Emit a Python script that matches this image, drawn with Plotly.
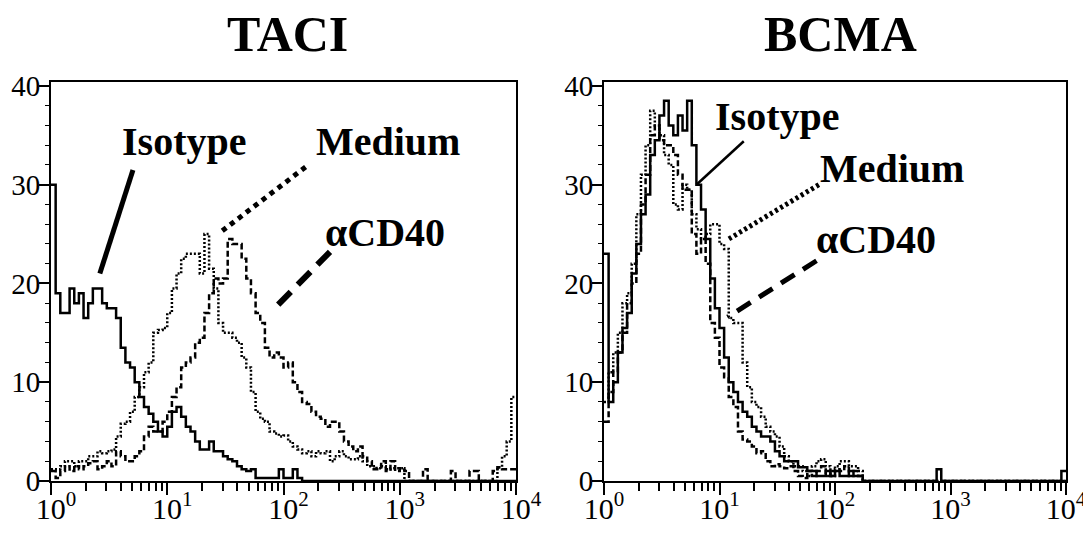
import plotly.graph_objects as go

# ---------------- data (histogram counts, 100 bins of 0.04 log10 units from 10^0 to 10^4) -------------
BIN_WIDTH_LOG = 0.04
N_BINS = 100

taci_isotype = [30, 19, 17, 17, 19.5, 18, 19, 16.5, 18, 19.5,
                19.5, 18, 17.5, 17.5, 16.5, 13.5, 12, 11.5, 10, 8.5,
                7.5, 6.8, 6, 5, 4.5, 5.5, 7, 7.5, 6.5, 5.5,
                5, 4, 3.2, 3.2, 4, 3, 3, 2.5, 2.2, 2,
                1.5, 1.2, 1, 1.2, 0.3, 0.3, 0.3, 0.3, 0.3, 1.2,
                0.3, 0.3, 1.2, 0.3, 0, 0, 0, 0, 0, 0,
                0, 0, 0, 0, 0, 0, 0, 0, 0, 0,
                0, 0, 0, 0, 0, 0, 0, 0, 0, 0,
                0, 0, 0, 0, 0, 0, 0, 0, 0, 0,
                0, 0, 0, 0, 0, 0, 0, 0, 0, 0]

taci_medium = [1.2, 1.2, 1.5, 2, 2, 1.5, 2, 2, 2.5, 2.5,
               3, 2.8, 3, 3.2, 4.5, 5.8, 6, 7, 8.5, 9.5,
               11, 12, 15, 15.3, 15.5, 17, 19.5, 21, 22.5, 23,
               23, 23, 21, 25, 21.5, 19.5, 16, 15, 15, 14.5,
               14, 12.5, 11.5, 9, 7, 6.3, 6, 5, 4.8, 4.5,
               4.6, 4, 3.5, 3.2, 2.8, 3, 2.5, 3, 2.8, 3,
               2, 2.5, 3, 2.5, 2.2, 2.2, 2.5, 2, 1.5, 1.5,
               1.3, 1.5, 1.2, 1.3, 1.3, 1.3, 0, 0, 0, 0,
               0, 0, 0, 0, 0, 0, 0, 0, 0, 0,
               0, 0, 0, 0, 0, 0, 1.4, 2.5, 4, 8.5]

taci_cd40 = [1, 0.3, 1, 1.5, 1, 1.5, 1.2, 1.5, 1.8, 2,
             1.2, 1.5, 2, 1.5, 3, 2.5, 2, 2, 2.5, 3,
             4.5, 5.5, 5, 5, 6, 7, 8.5, 9.5, 11.5, 12,
             12.5, 14, 14.5, 17, 19, 20.5, 20, 20.5, 24.5, 24,
             24, 22.5, 20.5, 19, 17, 16, 13.5, 12.5, 13, 12.5,
             11.5, 12, 10, 9, 8, 7.8, 7, 6.5, 6.3, 5.5,
             6, 6, 5, 4, 3.5, 3, 3.5, 2.5, 2, 1.2,
             1.2, 2, 1, 2, 1, 1.3, 1, 0, 0, 0,
             1.2, 0, 0, 0, 0, 0, 1, 0, 0, 0,
             1, 1, 0, 0, 0, 1, 1.4, 1.2, 1.2, 1.2]

bcma_isotype = [23, 8, 10, 13, 15.5, 17, 21, 24, 27, 29,
                33, 34.5, 37, 38.5, 36, 35, 37, 35.5, 38.5, 34,
                30, 27.5, 24.5, 20.5, 17.5, 15.5, 12.5, 10, 9, 8,
                7, 6.5, 5.5, 5, 4.5, 4.5, 4, 3, 2.5, 2,
                2, 2, 1.4, 1.4, 1, 1, 0.5, 0.5, 1, 0.5,
                1, 0.5, 0.5, 1, 0.5, 0.5, 0, 0, 0, 0,
                0, 0, 0, 0, 0, 0, 0, 0, 0, 0,
                0, 0, 1.2, 0, 0, 0, 0, 0, 0, 0,
                0, 0, 0, 0, 0, 0, 0, 0, 0, 0,
                0, 0, 0, 0, 0, 0, 0, 0, 0, 1]

bcma_medium = [8, 11, 13, 15, 18, 19, 22, 27, 31, 34,
               37.5, 36, 35, 33, 32, 28, 27.5, 30, 29.5, 27,
               25.5, 24.5, 25, 26, 26, 24, 23.5, 16.5, 16, 16,
               12, 9.5, 8, 7.5, 6.5, 5.5, 5, 4.5, 3.5, 2.5,
               2, 1.5, 1.5, 1, 0.5, 1.5, 2, 2.2, 1.5, 0.5,
               1.5, 2, 2, 1.5, 1.5, 1, 0, 0, 0, 0,
               0, 0, 0, 0, 0, 0, 0, 0, 0, 0,
               0, 0, 0, 0, 0, 0, 0, 0, 0, 0,
               0, 0, 0, 0, 0, 0, 0, 0, 0, 0,
               0, 0, 0, 0, 0, 0, 0, 0, 0, 0]

bcma_cd40 = [6, 9, 11, 13, 15, 18, 20, 23, 28, 31,
             35, 36, 34.5, 34, 34, 33, 31, 29.5, 29.5, 25,
             23, 24.5, 22, 16, 14.5, 11.5, 10.5, 8.5, 7.5, 5,
             4.2, 4, 3.5, 2.8, 3, 2, 1.5, 1.7, 1.5, 1.3,
             1.5, 1, 0.5, 0.3, 1, 0.5, 1, 1.5, 0.5, 1,
             1.2, 1, 1.5, 0.5, 1, 0.5, 0, 0, 0, 0,
             0, 0, 0, 0, 0, 0, 0, 0, 0, 0,
             0, 0, 0, 0, 0, 0, 0, 0, 0, 0,
             0, 0, 0, 0, 0, 0, 0, 0, 0, 0,
             0, 0, 0, 0, 0, 0, 0, 0, 0, 0]

panel_titles = ["TACI", "BCMA"]
series_labels = ["Isotype", "Medium", "αCD40"]
x_tick_vals = [1, 10, 100, 1000, 10000]
x_tick_text = ["10<sup>0</sup>", "10<sup>1</sup>", "10<sup>2</sup>", "10<sup>3</sup>", "10<sup>4</sup>"]
y_tick_vals = [0, 10, 20, 30, 40]

# label leader lines (log10 position, count) : start near label, end on curve
taci_pointers = {"Isotype": [(0.705, 31.5), (0.42, 21.0)],
                 "Medium": [(2.19, 31.8), (1.47, 25.3)],
                 "αCD40": [(2.40, 23.2), (1.90, 17.2)]}
bcma_pointers = {"Isotype": [(1.21, 34.4), (0.80, 30.0)],
                 "Medium": [(1.86, 30.0), (1.08, 24.5)],
                 "αCD40": [(1.84, 22.3), (1.07, 16.6)]}

# ---------------- figure --------------------------------------------------------------------------
W, H = 1091, 534
OFF = 8  # default page margin of the html body shifts the figure by 8px
SERIF = "Liberation Serif, Times New Roman, serif"


def px_x(p):
    return (p - OFF) / W


def px_y(p):
    return 1 - (p - OFF) / H


edges = [10 ** (BIN_WIDTH_LOG * i) for i in range(N_BINS + 1)]

curve_style = {
    "Isotype": dict(color="black", width=2.5),
    "Medium": dict(color="black", width=2.5, dash="2px,2px"),
    "αCD40": dict(color="black", width=2.5, dash="6px,3px"),
}

fig = go.Figure()

panels = [
    ("x", "y", [taci_medium, taci_cd40, taci_isotype], taci_pointers,
     {"Isotype": dict(width=5), "Medium": dict(width=5, dash="5px,5px"), "αCD40": dict(width=6, dash="18px,10px")}),
    ("x2", "y2", [bcma_medium, bcma_cd40, bcma_isotype], bcma_pointers,
     {"Isotype": dict(width=2.5), "Medium": dict(width=5, dash="3px,3px"), "αCD40": dict(width=5, dash="16px,10px")}),
]

for xa, ya, series, pointers, pstyle in panels:
    for name, vals in zip(["Medium", "αCD40", "Isotype"], series):
        fig.add_trace(go.Scatter(x=edges, y=list(vals) + [vals[-1]], mode="lines",
                                 line=dict(shape="hv", **curve_style[name]),
                                 xaxis=xa, yaxis=ya, showlegend=False, hoverinfo="skip"))
    for name in series_labels:
        (l0, v0), (l1, v1) = pointers[name]
        fig.add_trace(go.Scatter(x=[10 ** l0, 10 ** l1], y=[v0, v1], mode="lines",
                                 line=dict(color="black", **pstyle[name]),
                                 xaxis=xa, yaxis=ya, showlegend=False, hoverinfo="skip"))


def xaxis_cfg(domain, anchor, shift):
    return dict(type="log", range=[0, 4], domain=domain, anchor=anchor, automargin=False,
                showline=True, linecolor="black", linewidth=2, mirror=True,
                showgrid=False, zeroline=False,
                tickvals=x_tick_vals, ticktext=x_tick_text,
                ticks="outside", ticklen=12, tickwidth=2, tickcolor="black",
                ticklabelstandoff=-12, ticklabelshift=shift,
                tickfont=dict(family=SERIF, size=30, color="black"),
                minor=dict(tickvals=[m * 10 ** d for d in range(4) for m in range(2, 10)],
                           ticks="outside", ticklen=8, tickwidth=2, tickcolor="black"))


def yaxis_cfg(domain, anchor):
    return dict(range=[0, 40.4], domain=domain, anchor=anchor, automargin=False,
                showline=True, linecolor="black", linewidth=2, mirror=True,
                showgrid=False, zeroline=False,
                tickvals=y_tick_vals, ticks="outside", ticklen=10, tickwidth=2, tickcolor="black",
                ticklabelstandoff=-7,
                tickfont=dict(family=SERIF, size=29, color="black"),
                minor=dict(dtick=2, ticks="outside", ticklen=4, tickwidth=1, tickcolor="black"))


ydom = [px_y(481), px_y(82)]
fig.update_layout(
    width=W, height=H, margin=dict(l=0, r=0, t=0, b=0, autoexpand=False),
    paper_bgcolor="white", plot_bgcolor="white",
    xaxis=xaxis_cfg([px_x(51), px_x(516)], "y", 5),
    yaxis=yaxis_cfg(ydom, "x"),
    xaxis2=xaxis_cfg([px_x(604), px_x(1066)], "y2", 0),
    yaxis2=yaxis_cfg(ydom, "x2"),
)

# titles
for title, cx in zip(panel_titles, [287, 840]):
    fig.add_annotation(text=f"<b>{title}</b>", x=px_x(cx), y=px_y(34), xref="paper", yref="paper",
                       showarrow=False, xanchor="center", yanchor="middle",
                       font=dict(family=SERIF, size=50, color="black"))

# series labels
label_pos = [
    ("Isotype", 184, 142), ("Medium", 388, 142), ("αCD40", 385, 232),
    ("Isotype", 777, 117), ("Medium", 892, 168), ("αCD40", 876, 239),
]
for text, cx, cy in label_pos:
    fig.add_annotation(text=f"<b>{text}</b>", x=px_x(cx), y=px_y(cy), xref="paper", yref="paper",
                       showarrow=False, xanchor="center", yanchor="middle",
                       font=dict(family=SERIF, size=40, color="black"))

fig.write_html("out.html")
